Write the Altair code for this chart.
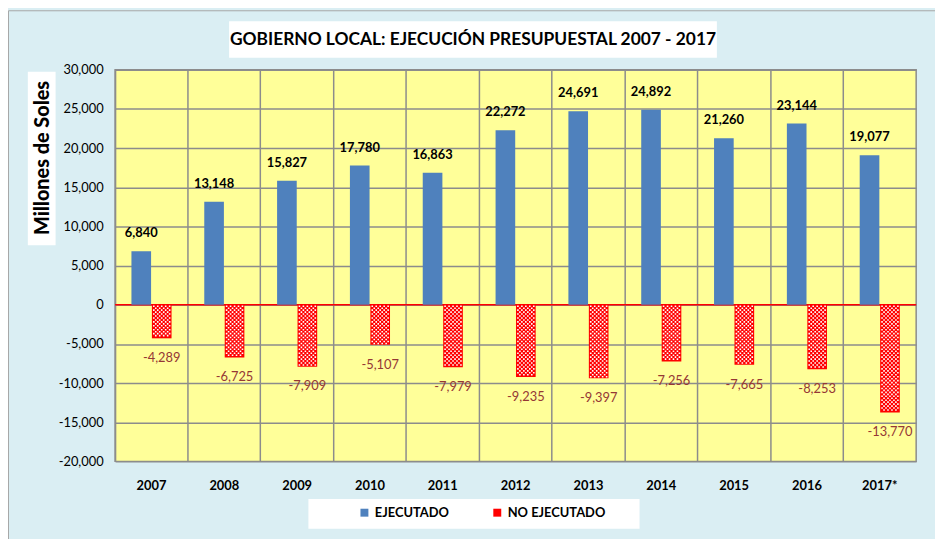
import altair as alt
import pandas as pd

years = ["2007", "2008", "2009", "2010", "2011", "2012", "2013", "2014", "2015", "2016", "2017*"]
ejecutado = [6840, 13148, 15827, 17780, 16863, 22272, 24691, 24892, 21260, 23144, 19077]
no_ejecutado = [-4289, -6725, -7909, -5107, -7979, -9235, -9397, -7256, -7665, -8253, -13770]
series = ["EJECUTADO", "NO EJECUTADO"]
y_ticks = [-20000, -15000, -10000, -5000, 0, 5000, 10000, 15000, 20000, 25000, 30000]

FONT = "Lato"
BLUE = "#4F81BD"
RED = "#FF0000"
GRID = "#8C8C8C"

rows = []
for y, e, n in zip(years, ejecutado, no_ejecutado):
    rows.append({"anio": y, "serie": series[0], "valor": e})
    rows.append({"anio": y, "serie": series[1], "valor": n})
df = pd.DataFrame(rows)

W, H = 808, 395

xscale = alt.Scale(domain=years, paddingInner=0, paddingOuter=0)
xoff = alt.XOffset("serie:N", scale=alt.Scale(domain=series, paddingInner=0.04, paddingOuter=0.8))
yscale = alt.Scale(domain=[-20000, 30000], nice=False, zero=False)
yaxis = alt.Axis(values=y_ticks, format=",.0f",
                 labelExpr="replace(datum.label, '\u2212', '-')",
                 grid=True, gridColor=GRID, gridWidth=1.5, ticks=False, domain=False,
                 labelFont=FONT, labelFontSize=13, labelColor="black", labelPadding=12)
minus_fix = "replace(format(datum.valor, ','), '\u2212', '-')"

base = alt.Chart(df)
one = pd.DataFrame({"t": ["x"]})

boxes = alt.Chart(one).mark_rect(color="white").encode(
    x=alt.value(115), x2=alt.value(607), y=alt.value(-49), y2=alt.value(-12)
)
ybox = alt.Chart(one).mark_rect(color="white").encode(
    x=alt.value(-88), x2=alt.value(-60), y=alt.value(2), y2=alt.value(177)
)
lbox = alt.Chart(one).mark_rect(color="white").encode(
    x=alt.value(195), x2=alt.value(529), y=alt.value(433), y2=alt.value(463)
)
frame = alt.Chart(one).mark_rect(fill=None, stroke="#A6A6A6", strokeWidth=1).encode(
    x=alt.value(-107.5), x2=alt.value(840), y=alt.value(-59.5), y2=alt.value(480)
)

title = alt.Chart(pd.DataFrame({"t": ["GOBIERNO LOCAL: EJECUCIÓN PRESUPUESTAL 2007  - 2017"]})).mark_text(
    font=FONT, fontSize=17.5, fontWeight="bold", color="black", align="center", baseline="middle"
).encode(x=alt.value(361), y=alt.value(-30), text="t:N")

ytitle = alt.Chart(pd.DataFrame({"t": ["Millones de Soles"]})).mark_text(
    font=FONT, fontSize=20, fontWeight=900, color="black", align="center", baseline="middle", angle=270
).encode(x=alt.value(-73), y=alt.value(89), text="t:N")

zero = base.transform_filter(alt.datum.valor == ejecutado[0]).mark_rule(
    color=RED, strokeWidth=1.5
).encode(
    y=alt.Y(datum=0, scale=yscale, axis=yaxis, title=None)
)

bars = base.mark_bar().encode(
    x=alt.X("anio:N", scale=xscale, sort=years, title=None,
            axis=alt.Axis(orient="bottom", grid=True, bandPosition=0, labels=False, ticks=False,
                          domain=False, gridColor=GRID, gridWidth=1.5)),
    xOffset=xoff,
    y=alt.Y("valor:Q", scale=yscale, title=None, axis=yaxis),
    color=alt.Color("serie:N", scale=alt.Scale(domain=series, range=[BLUE, RED]),
                    legend=alt.Legend(orient="none", legendX=245, legendY=440, direction="horizontal",
                                      title=None, symbolType="square", symbolSize=64,
                                      symbolStrokeWidth=0, labelFont=FONT, labelFontSize=13,
                                      labelFontWeight="bold", labelColor="black", columnPadding=42,
                                      labelOffset=4, padding=0)),
)

# white dot texture of the NO EJECUTADO bars (two staggered row types)
def dot_path(xs, s=1.6):
    return " ".join(f"M{x - s / 2:.2f},{-s / 2:.2f}h{s}v{s}h{-s}z" for x in xs)

dot_layers = []
for parity, xs in [(0, [-8, -4, 0, 4, 8]), (1, [-6, -2, 2, 6])]:
    dot_layers.append(
        base.transform_filter(alt.datum.serie == "NO EJECUTADO")
        .transform_calculate(seq="sequence(-190, datum.valor + 120, -250)")
        .transform_flatten(["seq"])
        .transform_calculate(par="round((-datum.seq - 190) / 250) % 2")
        .transform_filter(alt.datum.par == parity)
        .mark_point(shape=dot_path(xs), size=4, filled=True, color="white", opacity=1, strokeWidth=0)
        .encode(
            x=alt.X("anio:N", scale=xscale, sort=years, axis=None),
            xOffset=xoff,
            y=alt.Y("seq:Q", scale=yscale, axis=yaxis, title=None),
        )
    )

pos_labels = base.transform_filter(alt.datum.serie == "EJECUTADO").transform_calculate(
    lbl=minus_fix
).mark_text(font=FONT, fontSize=13, fontWeight="bold", color="black", baseline="middle", dy=-18).encode(
    x=alt.X("anio:N", scale=xscale, sort=years, title=None,
            axis=alt.Axis(orient="bottom", grid=False, ticks=False, domain=False, labelAngle=0,
                          labelFont=FONT, labelFontSize=13, labelFontWeight="bold",
                          labelColor="black", labelPadding=18)),
    xOffset=xoff,
    y=alt.Y("valor:Q", scale=yscale, axis=yaxis, title=None),
    text="lbl:N",
)

neg_labels = base.transform_filter(alt.datum.serie == "NO EJECUTADO").transform_calculate(
    lbl=minus_fix
).mark_text(font=FONT, fontSize=13, color="#953735", baseline="middle", dy=20).encode(
    x=alt.X("anio:N", scale=xscale, sort=years, axis=None),
    xOffset=xoff,
    y=alt.Y("valor:Q", scale=yscale, axis=yaxis, title=None),
    text="lbl:N",
)

chart = alt.layer(
    frame, boxes, ybox, lbox, title, ytitle, zero, bars, *dot_layers, pos_labels, neg_labels
).resolve_axis(x="independent").properties(
    width=W, height=H,
    autosize=alt.AutoSizeParams(type="none"),
    padding={"left": 108, "top": 60, "right": 19, "bottom": 76},
    background="#DAEEF3",
).configure_view(
    fill="#FFFF99", stroke=GRID, strokeWidth=1.5
)

chart.save("out.html", embed_options={"renderer": "svg", "actions": False})
